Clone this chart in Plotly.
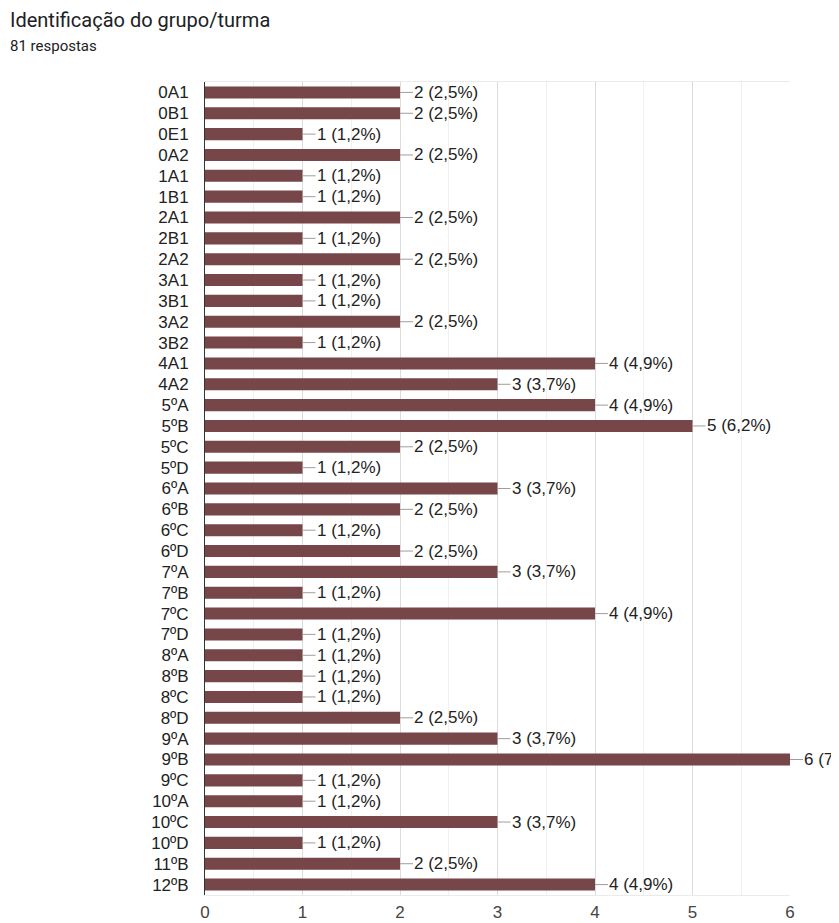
import plotly.graph_objects as go

categories = ["0A1", "0B1", "0E1", "0A2", "1A1", "1B1", "2A1", "2B1", "2A2",
              "3A1", "3B1", "3A2", "3B2", "4A1", "4A2", "5ºA", "5ºB", "5ºC", "5ºD",
              "6ºA", "6ºB", "6ºC", "6ºD", "7ºA", "7ºB", "7ºC", "7ºD",
              "8ºA", "8ºB", "8ºC", "8ºD", "9ºA", "9ºB", "9ºC",
              "10ºA", "10ºC", "10ºD", "11ºB", "12ºB"]
counts = [2, 2, 1, 2, 1, 1, 2, 1, 2,
          1, 1, 2, 1, 4, 3, 4, 5, 2, 1,
          3, 2, 1, 2, 3, 1, 4, 1,
          1, 1, 1, 2, 3, 6, 1,
          1, 3, 1, 2, 4]
total_responses = 81
x_ticks = [0, 1, 2, 3, 4, 5, 6]

title_text = "Identificação do grupo/turma"
subtitle_text = f"{total_responses} respostas"

labels = [f"{v} ({v / total_responses * 100:.1f}%)".replace(".", ",") for v in counts]

# page body has an 8px default margin; compensate so the picture lines up
OFF = 8
W, H = 839 - OFF, 923 - OFF
ML, MR, MT, MB = 205 - OFF, 49, 82 - OFF, 28
PW, PH = W - ML - MR, H - MT - MB

fig = go.Figure()
fig.add_trace(go.Bar(
    x=counts, y=list(range(len(categories))), orientation="h",
    marker=dict(color="#774648", line=dict(width=0)),
    width=0.58,
    hoverinfo="skip",
))

for i, (v, lab) in enumerate(zip(counts, labels)):
    fig.add_annotation(
        x=v, y=i, xref="x", yref="y",
        text=lab, showarrow=True, arrowhead=0, arrowwidth=1,
        arrowcolor="#9e9e9e", axref="pixel", ayref="pixel",
        ax=13, ay=0, xanchor="left", yanchor="middle",
        standoff=0, startstandoff=0,
        font=dict(family="Liberation Sans, Arial", size=17, color="#222222"),
        borderpad=0, bgcolor="rgba(0,0,0,0)",
    )

fig.add_annotation(
    text=title_text, xref="paper", yref="paper",
    x=-(ML + OFF - 8) / PW, y=1 + (MT + OFF - 20) / PH,
    xanchor="left", yanchor="middle", showarrow=False,
    font=dict(family="Roboto", size=20, color="#202124"),
)
fig.add_annotation(
    text=subtitle_text, xref="paper", yref="paper",
    x=-(ML + OFF - 8) / PW, y=1 + (MT + OFF - 46) / PH,
    xanchor="left", yanchor="middle", showarrow=False,
    font=dict(family="Roboto", size=15, color="#202124"),
)

fig.update_layout(
    width=W, height=H,
    margin=dict(l=ML, r=MR, t=MT, b=MB),
    paper_bgcolor="white", plot_bgcolor="white",
    showlegend=False,
    xaxis=dict(
        range=[0, 6], tickvals=x_ticks, ticktext=[str(t) for t in x_ticks],
        showgrid=True, gridcolor="#dcdcdc", gridwidth=1,
        minor=dict(dtick=0.5, showgrid=True, gridcolor="#f0f0f0", gridwidth=1),
        zeroline=False,
        showline=True, linecolor="#ebebeb", linewidth=1, mirror=True,
        ticks="outside", ticklen=2, tickcolor="rgba(0,0,0,0)",
        tickfont=dict(family="Liberation Sans, Arial", size=17, color="#444444"),
        automargin=False, fixedrange=True,
    ),
    yaxis=dict(
        range=[len(categories) - 0.5, -0.5],
        tickvals=list(range(len(categories))), ticktext=categories,
        showgrid=False, zeroline=False,
        showline=True, linecolor="#333333", linewidth=1,
        ticks="outside", ticklen=12, tickcolor="rgba(0,0,0,0)",
        tickfont=dict(family="Liberation Sans, Arial", size=17, color="#222222"),
        automargin=False, fixedrange=True,
    ),
)

fig.write_html("out.html")
